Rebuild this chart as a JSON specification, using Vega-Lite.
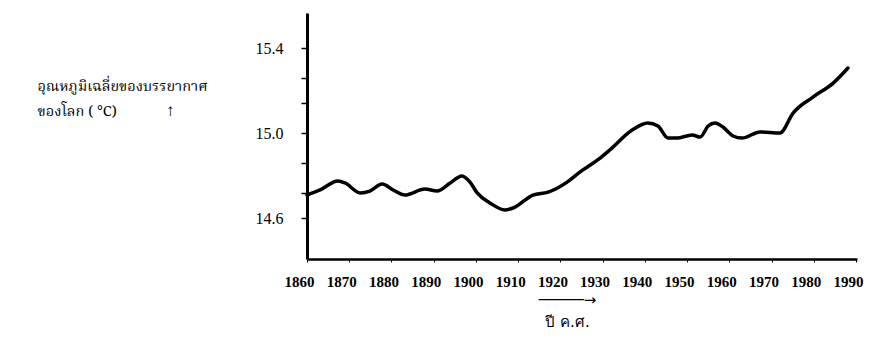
{
  "$schema": "https://vega.github.io/schema/vega-lite/v6.json",
  "autosize": "none",
  "width": 550,
  "height": 246,
  "padding": {"left": 307, "top": 13, "right": 26, "bottom": 94},
  "background": "white",
  "config": {"view": {"stroke": null}},
  "title": {
    "text": "↑", "orient": "top", "anchor": "start", "frame": "group",
    "font": "'Liberation Serif', 'Times New Roman', serif", "fontSize": 17, "fontWeight": "normal", "color": "black",
    "offset": 0, "dx": -141, "dy": 107
  },
  "data": {"values": [
    {"year": 1860.0, "temp": 14.708},
    {"year": 1863.1, "temp": 14.732},
    {"year": 1867.3, "temp": 14.774},
    {"year": 1869.0, "temp": 14.765},
    {"year": 1872.6, "temp": 14.718},
    {"year": 1874.9, "temp": 14.727},
    {"year": 1877.8, "temp": 14.760},
    {"year": 1880.4, "temp": 14.732},
    {"year": 1883.2, "temp": 14.708},
    {"year": 1887.9, "temp": 14.736},
    {"year": 1890.8, "temp": 14.727},
    {"year": 1893.9, "temp": 14.765},
    {"year": 1896.7, "temp": 14.798},
    {"year": 1898.6, "temp": 14.769},
    {"year": 1900.3, "temp": 14.718},
    {"year": 1903.3, "temp": 14.671},
    {"year": 1906.9, "temp": 14.638},
    {"year": 1908.8, "temp": 14.647},
    {"year": 1913.5, "temp": 14.708},
    {"year": 1917.1, "temp": 14.722},
    {"year": 1921.6, "temp": 14.769},
    {"year": 1924.6, "temp": 14.816},
    {"year": 1929.4, "temp": 14.882},
    {"year": 1931.7, "temp": 14.920},
    {"year": 1937.0, "temp": 15.014},
    {"year": 1940.7, "temp": 15.047},
    {"year": 1943.1, "temp": 15.033},
    {"year": 1945.5, "temp": 14.976},
    {"year": 1947.6, "temp": 14.976},
    {"year": 1951.2, "temp": 14.991},
    {"year": 1953.1, "temp": 14.981},
    {"year": 1955.0, "temp": 15.033},
    {"year": 1956.6, "temp": 15.047},
    {"year": 1958.5, "temp": 15.028},
    {"year": 1960.9, "temp": 14.986},
    {"year": 1963.0, "temp": 14.976},
    {"year": 1967.3, "temp": 15.005},
    {"year": 1972.0, "temp": 15.000},
    {"year": 1975.1, "temp": 15.094},
    {"year": 1979.8, "temp": 15.169},
    {"year": 1984.6, "temp": 15.235},
    {"year": 1988.1, "temp": 15.306}
  ]},
  "mark": {"type": "line", "color": "black", "strokeWidth": 3.5, "interpolate": "monotone", "strokeCap": "round"},
  "encoding": {
    "x": {
      "field": "year", "type": "quantitative",
      "scale": {"domain": [1860, 1990.24], "nice": false, "zero": false},
      "axis": {
        "values": [1860, 1870, 1880, 1890, 1900, 1910, 1920, 1930, 1940, 1950, 1960, 1970, 1980, 1990],
        "format": "d",
        "labelOverlap": false,
        "labelFlush": false,
        "grid": false,
        "domainColor": "black", "domainWidth": 2.5,
        "tickColor": "black", "tickSize": 3, "tickWidth": 1,
        "labelOffset": -8,
        "labelFont": "'Liberation Serif', 'Times New Roman', serif", "labelFontSize": 15, "labelFontWeight": "bold", "labelColor": "black",
        "labelPadding": 12,
        "title": ["─────→", "ปี ค.ศ."],
        "titleFont": "'DejaVu Sans', sans-serif", "titleFontSize": 15, "titleFontWeight": "normal", "titleColor": "black",
        "titleX": 260, "titleY": 40, "titleBaseline": "middle", "titleAlign": "center", "titleLineHeight": 22
      }
    },
    "y": {
      "field": "temp", "type": "quantitative",
      "scale": {"domain": [14.407, 15.565], "nice": false, "zero": false},
      "axis": {
        "values": [14.6, 14.72, 14.86, 15.0, 15.14, 15.26, 15.4],
        "format": ".1f",
        "labelExpr": "datum.label == '14.6' || datum.label == '15.0' || datum.label == '15.4' ? datum.label : ''",
        "grid": false,
        "domainColor": "black", "domainWidth": 3,
        "tickColor": "black", "tickSize": 6, "tickWidth": 1.5,
        "labelFont": "'Liberation Serif', 'Times New Roman', serif", "labelFontSize": 16, "labelColor": "black",
        "labelPadding": 18,
        "title": ["อุณหภูมิเฉลี่ยของบรรยากาศ", "ของโลก ( °C)"],
        "titleFont": "'Noto Serif Thai', 'Noto Sans Thai Looped', 'Liberation Serif', serif", "titleFontSize": 14.5, "titleFontWeight": "normal", "titleColor": "black",
        "titleAngle": 0, "titleAlign": "left", "titleBaseline": "middle",
        "titleX": -270, "titleY": 73, "titleLineHeight": 25
      }
    }
  }
}
